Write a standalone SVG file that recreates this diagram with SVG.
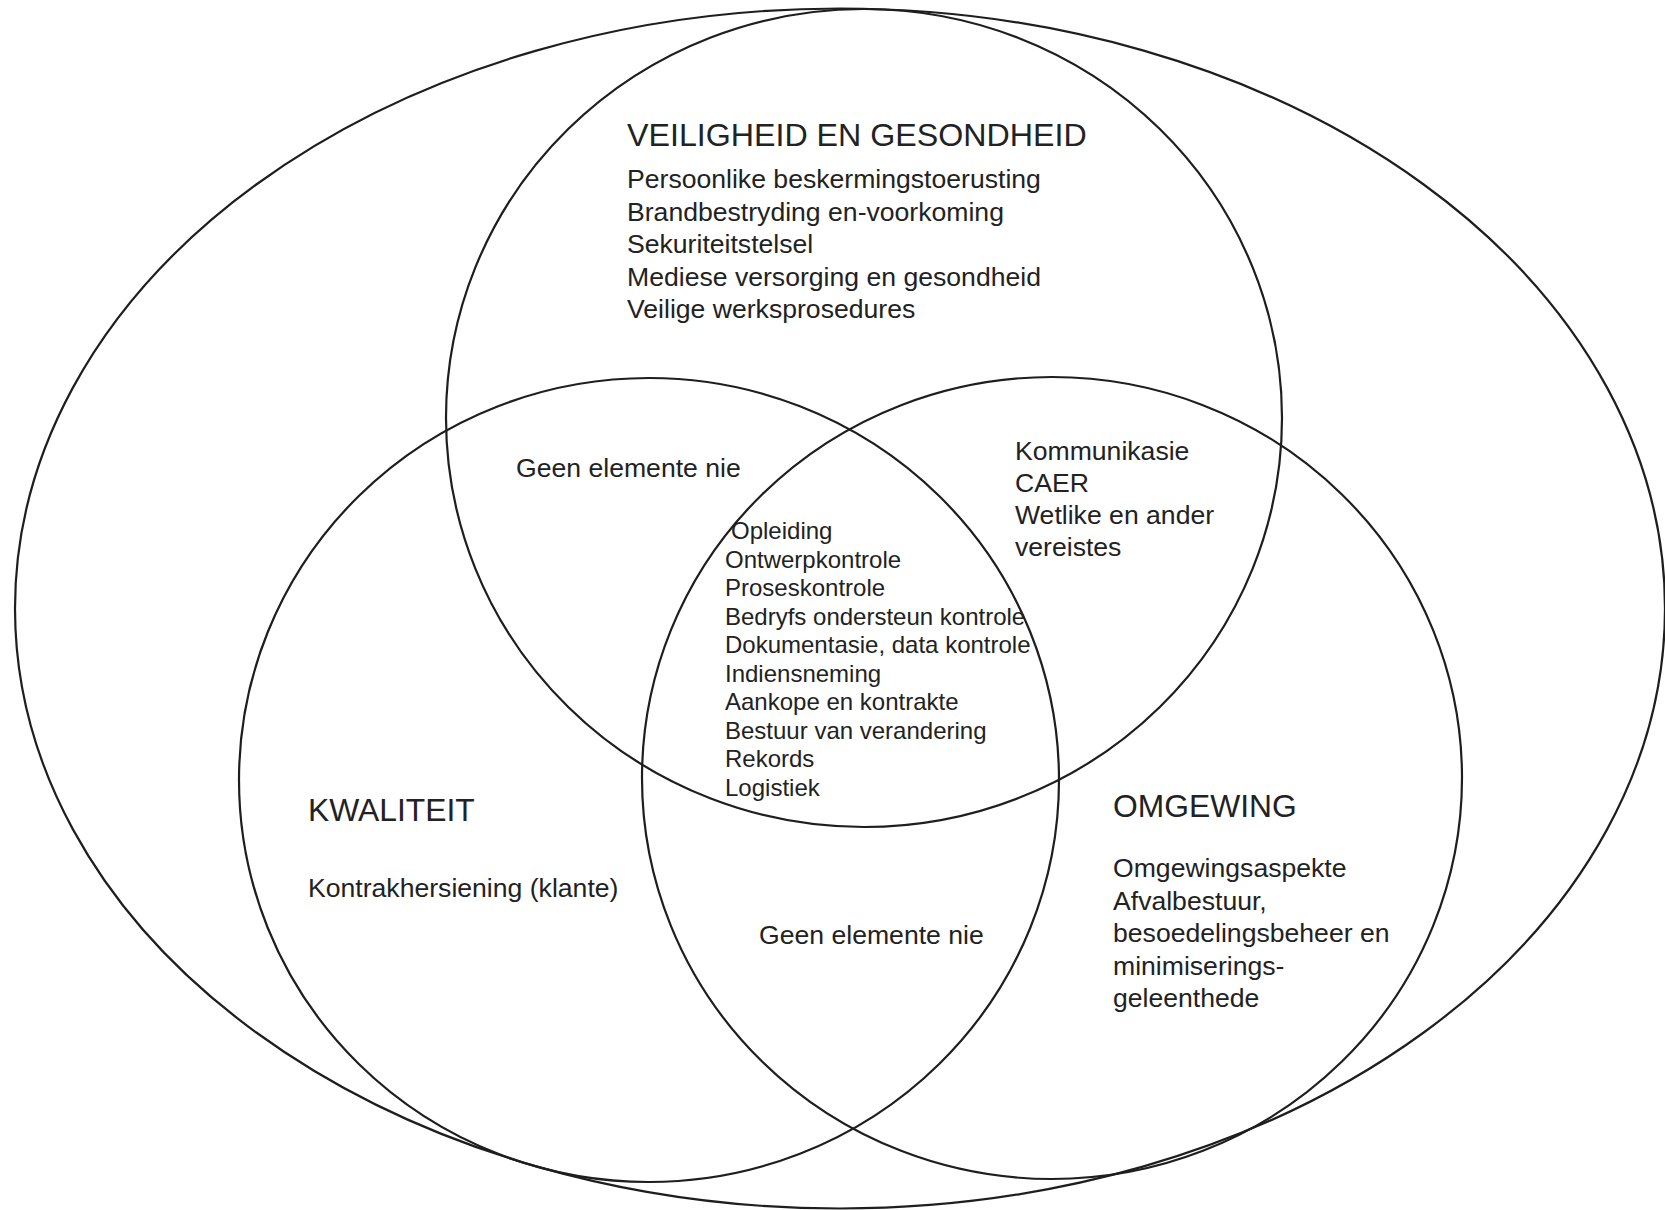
<svg xmlns="http://www.w3.org/2000/svg" width="1665" height="1210" viewBox="0 0 1665 1210">
<style>
.c{fill:none;stroke:#1e1e1e;stroke-width:2.2}
text{font-family:"Liberation Sans",Arial,sans-serif;fill:#222}
.h{font-size:31.8px}
.t{font-size:32.2px}
.b{font-size:26.6px}
.m{font-size:24px}
</style>
<rect width="1665" height="1210" fill="#fff"/>
<g id="shapes">
<ellipse id="outer" class="c" cx="840" cy="608.5" rx="825" ry="600"/>
<ellipse id="veiligheid-circle" class="c" cx="864" cy="418" rx="418" ry="409"/>
<ellipse id="kwaliteit-circle" class="c" cx="649" cy="780" rx="410" ry="402"/>
<ellipse id="omgewing-circle" class="c" cx="1052" cy="778" rx="410" ry="401"/>
</g>
<g id="veiligheid">
<text class="t" x="627" y="146">VEILIGHEID EN GESONDHEID</text>
<text class="b" x="627" y="188">Persoonlike beskermingstoerusting</text>
<text class="b" x="627" y="220.5">Brandbestryding en-voorkoming</text>
<text class="b" x="627" y="253">Sekuriteitstelsel</text>
<text class="b" x="627" y="285.5">Mediese versorging en gesondheid</text>
<text class="b" x="627" y="318">Veilige werksprosedures</text>
</g>
<g id="veiligheid-kwaliteit">
<text class="b" x="516" y="477">Geen elemente nie</text>
</g>
<g id="veiligheid-omgewing">
<text class="b" x="1015" y="460">Kommunikasie</text>
<text class="b" x="1015" y="492">CAER</text>
<text class="b" x="1015" y="524">Wetlike en ander</text>
<text class="b" x="1015" y="556">vereistes</text>
</g>
<g id="centre">
<text class="m" x="731" y="539">Opleiding</text>
<text class="m" x="725" y="567.5">Ontwerpkontrole</text>
<text class="m" x="725" y="596">Proseskontrole</text>
<text class="m" x="725" y="624.5">Bedryfs ondersteun kontrole</text>
<text class="m" x="725" y="653">Dokumentasie, data kontrole</text>
<text class="m" x="725" y="681.5">Indiensneming</text>
<text class="m" x="725" y="710">Aankope en kontrakte</text>
<text class="m" x="725" y="738.5">Bestuur van verandering</text>
<text class="m" x="725" y="767">Rekords</text>
<text class="m" x="725" y="795.5">Logistiek</text>
</g>
<g id="kwaliteit">
<text class="h" x="308" y="821">KWALITEIT</text>
<text class="b" x="308" y="897">Kontrakhersiening (klante)</text>
</g>
<g id="kwaliteit-omgewing">
<text class="b" x="759" y="944">Geen elemente nie</text>
</g>
<g id="omgewing">
<text class="h" x="1113" y="817">OMGEWING</text>
<text class="b" x="1113" y="877">Omgewingsaspekte</text>
<text class="b" x="1113" y="909.5">Afvalbestuur,</text>
<text class="b" x="1113" y="942">besoedelingsbeheer en</text>
<text class="b" x="1113" y="974.5">minimiserings-</text>
<text class="b" x="1113" y="1007">geleenthede</text>
</g>
</svg>
